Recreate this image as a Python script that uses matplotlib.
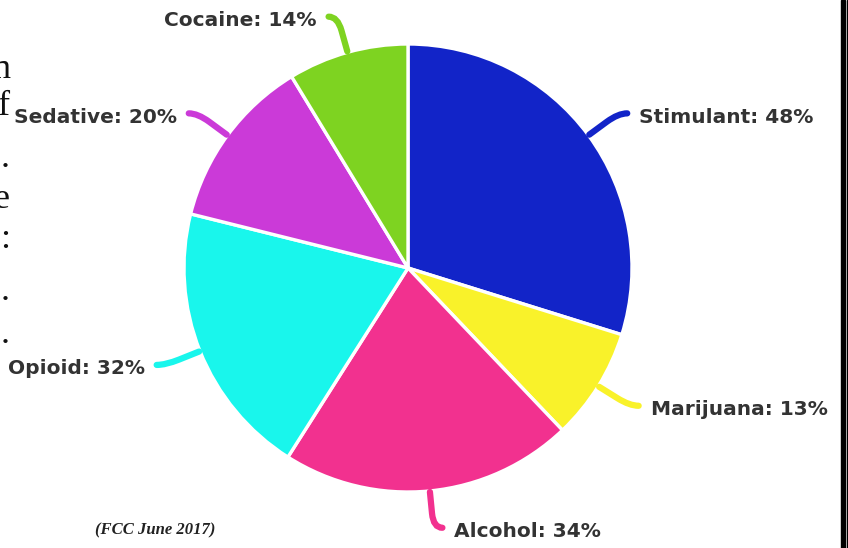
import numpy as np
import matplotlib.pyplot as plt
from matplotlib.path import Path
from matplotlib.patches import PathPatch

# --- data ---
LABELS = ["Stimulant", "Marijuana", "Alcohol", "Opioid", "Sedative", "Cocaine"]
VALUES = [48, 13, 34, 32, 20, 14]
COLORS = ["#1224c8", "#f9f22a", "#f2318f", "#19f6ec", "#cb3ad8", "#7ed321"]
SOURCE = "(FCC June 2017)"

W, H = 848, 548
CX, CY, R = 408, H - 268, 224

fig = plt.figure(figsize=(W / 100, H / 100), dpi=100)
ax = fig.add_axes([0, 0, 1, 1])

wedges, _ = ax.pie(VALUES, colors=COLORS, startangle=90, counterclock=False,
                   center=(CX, CY), radius=R, frame=True,
                   wedgeprops=dict(edgecolor="white", linewidth=2.4))
ax.set_xlim(0, W)
ax.set_ylim(0, H)
ax.set_aspect("equal")
ax.axis("off")

# leader lines + labels
total = sum(VALUES)
ang = 90.0
for lab, val, col in zip(LABELS, VALUES, COLORS):
    span = val / total * 360
    mid = np.deg2rad(ang - span / 2)
    ang -= span
    u = np.array([np.cos(mid), np.sin(mid)])
    side = 1 if u[0] > 0 else -1
    p0 = np.array([CX, CY]) + (R + 1) * u
    p1 = np.array([CX, CY]) + (R + 37) * u
    p2 = p1 + np.array([side * 9, 0])
    pm = p0 + (p1 - p0) * 0.6
    path = Path([p0, pm, p1, p2], [Path.MOVETO, Path.LINETO, Path.CURVE3, Path.CURVE3])
    ax.add_patch(PathPatch(path, fill=False, edgecolor=col, lw=4.5, capstyle="round"))
    ax.text(p2[0] + side * 12, p2[1] - 4, f"{lab}: {val}%",
            ha="left" if side > 0 else "right", va="center",
            fontsize=14.5, fontweight="bold", family="DejaVu Sans", color="#333333")

# footnote
ax.text(95, H - 530, SOURCE, ha="left", va="center", fontsize=12,
        family="Liberation Serif", style="italic", fontweight="bold", color="#222222")

# clipped text from the page on the left
for ch, y in zip(["n", "f", ".", "e", ":", ".", "."], [78, 115, 167, 208, 248, 300, 343]):
    ax.text(10, H - y, ch, ha="right", va="baseline", fontsize=26,
            family="Liberation Serif", color="#111111")

# right border
ax.axvspan(841, 845, color="black")
ax.axvspan(846.5, 848, color="black")

fig.savefig("out.png", dpi=100)
